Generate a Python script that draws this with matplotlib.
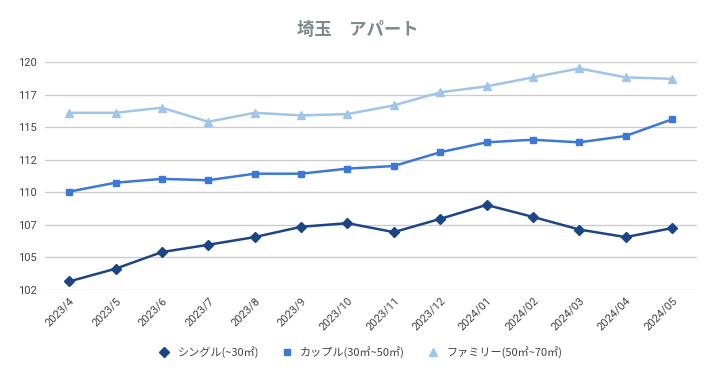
import matplotlib
matplotlib.use("Agg")
import matplotlib.pyplot as plt

plt.rcParams['font.family'] = ['Noto Sans CJK JP', 'DejaVu Sans']

months = ["2023/4", "2023/5", "2023/6", "2023/7", "2023/8", "2023/9", "2023/10",
          "2023/11", "2023/12", "2024/01", "2024/02", "2024/03", "2024/04", "2024/05"]

single = [103.15, 104.13, 105.41, 105.97, 106.56, 107.35, 107.63,
          106.94, 107.96, 109.03, 108.11, 107.14, 106.56, 107.25]
couple = [110.05, 110.74, 111.03, 110.93, 111.43, 111.43, 111.82,
          112.02, 113.08, 113.84, 114.04, 113.84, 114.33, 115.61]
family = [116.11, 116.11, 116.50, 115.42, 116.11, 115.91, 116.01,
          116.68, 117.68, 118.14, 118.83, 119.52, 118.83, 118.72]

y_ticks = [102.5, 105, 107.5, 110, 112.5, 115, 117.5, 120]
y_labels = ["102", "105", "107", "110", "112", "115", "117", "120"]

series = [
    ("シングル(~30㎡)", single, "#1c4587", "D", 5),
    ("カップル(30㎡~50㎡)", couple, "#3c78d8", "s", 5),
    ("ファミリー(50㎡~70㎡)", family, "#9fc5e8", "^", 5.5),
]

fig = plt.figure(figsize=(7.15, 3.79), dpi=100)
ax = fig.add_axes([0.063, 0.235, 0.912, 0.601])

x = list(range(len(months)))
for label, vals, color, marker, ms in series:
    ax.plot(x, vals, color=color, lw=1.8, marker=marker, markersize=ms, label=label)

ax.set_xlim(-0.52, len(months) - 1 + 0.54)
ax.set_ylim(102.5, 120)
ax.set_yticks(y_ticks)
ax.set_yticklabels(y_labels, fontsize=8, color="#444444", family="Roboto")
ax.set_xticks(x)
ax.set_xticklabels(months, rotation=45, ha="right", rotation_mode="anchor",
                   fontsize=8, color="#444444", family="Roboto")
ax.tick_params(axis="both", length=0, pad=4)
ax.tick_params(axis="y", pad=6)
ax.grid(axis="y", color="#cccccc", lw=1)
ax.set_axisbelow(True)
for s in ax.spines.values():
    s.set_visible(False)

fig.suptitle("埼玉　アパート", x=0.5, y=0.945, fontsize=12.5, fontweight="bold", color="#7f8a8c")

handles = [plt.Line2D([], [], ls="none", marker=m, color=c, markersize=ms)
           for _, _, c, m, ms in series]
fig.legend(handles, [s[0] for s in series], loc="center", bbox_to_anchor=(0.5, 0.07),
           ncol=3, frameon=False, fontsize=8, handletextpad=0.2, columnspacing=1.5,
           labelcolor="#444444")

fig.savefig("out.png", dpi=100)
